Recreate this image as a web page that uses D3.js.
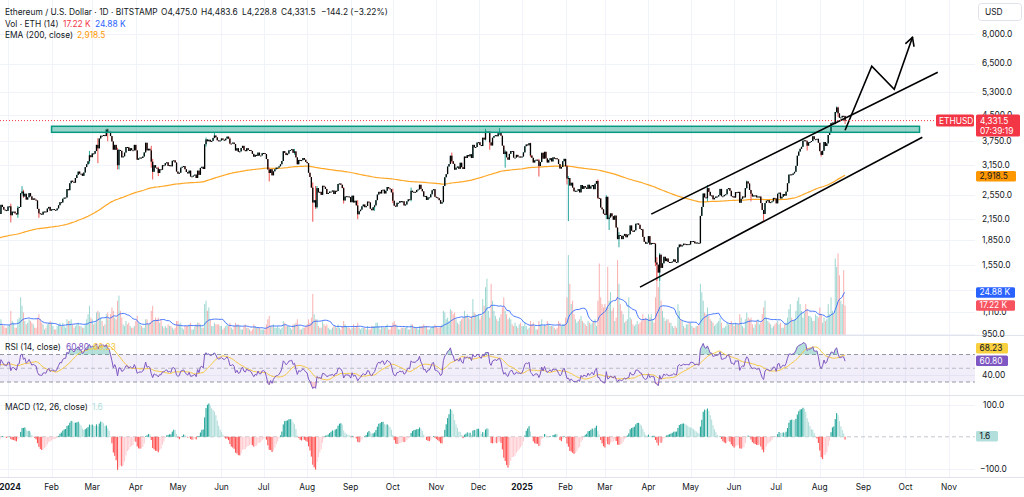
<!DOCTYPE html>
<html><head><meta charset="utf-8">
<script src="https://cdn.jsdelivr.net/npm/d3@7"></script>
<style>
html,body{margin:0;padding:0;background:#fff;}
svg{display:block;font-family:Inter,"Noto Sans",sans-serif;}
</style></head><body>
<svg id="c" width="1024" height="497"></svg>
<script>
// ---------------- DATA ----------------
// Daily closes (USD), one row per month, starting the 1st of each month
const closeMonths = ["2023-11","2023-12","2024-01","2024-02","2024-03","2024-04","2024-05","2024-06","2024-07","2024-08","2024-09","2024-10","2024-11","2024-12","2025-01","2025-02","2025-03","2025-04","2025-05","2025-06","2025-07","2025-08"];
const closeRows = [
[1845,1795,1835,1860,1895,1900,1885,1890,2120,2075,2050,2045,2055,1980,2060,1960,1960,1965,2015,2015,1935,2065,2060,2080,2085,2065,2030,2050,2030,2050],
[2090,2165,2195,2240,2295,2230,2360,2355,2340,2355,2225,2200,2260,2315,2220,2230,2195,2215,2175,2200,2240,2325,2265,2265,2270,2230,2380,2345,2300,2292,2281],
[2352,2355,2210,2268,2268,2240,2222,2330,2344,2585,2617,2525,2575,2470,2510,2587,2528,2467,2490,2470,2455,2313,2241,2234,2220,2267,2270,2260,2318,2345,2283],
[2303,2309,2296,2290,2320,2372,2425,2420,2485,2505,2507,2660,2640,2775,2825,2803,2785,2880,2945,3015,2970,2970,2925,2995,3112,3175,3245,3385,3340],
[3430,3422,3488,3645,3556,3815,3890,3885,3910,3880,4066,3980,4000,3880,3735,3522,3645,3520,3155,3515,3495,3335,3360,3450,3590,3585,3490,3560,3510,3505,3645],
[3505,3280,3310,3330,3320,3355,3455,3700,3505,3545,3505,3235,3010,3155,3100,3085,2985,3065,3055,3155,3150,3200,3220,3140,3155,3130,3255,3265,3215,3015],
[2970,2990,3100,3120,3135,3065,3005,2975,3035,2910,2915,2930,2950,2880,3035,2945,3095,3120,3070,3660,3790,3740,3780,3730,3750,3830,3895,3845,3765,3745,3760],
[3815,3780,3765,3810,3865,3810,3680,3680,3705,3665,3500,3560,3470,3480,3565,3620,3510,3485,3560,3515,3515,3490,3420,3350,3395,3370,3450,3380,3380,3435],
[3440,3415,3295,3060,2985,3065,2935,3020,3065,3100,3100,3130,3175,3250,3485,3445,3390,3425,3505,3515,3535,3445,3480,3335,3175,3275,3250,3270,3320,3280,3230],
[3200,2990,2900,2690,2420,2460,2340,2680,2600,2610,2555,2725,2705,2665,2570,2590,2615,2615,2635,2570,2630,2625,2760,2770,2745,2680,2455,2525,2530,2525,2515],
[2425,2540,2420,2450,2370,2225,2275,2300,2355,2385,2340,2360,2435,2420,2315,2290,2340,2370,2460,2560,2610,2580,2645,2650,2580,2630,2700,2675,2660,2600],
[2450,2365,2350,2415,2415,2445,2425,2440,2370,2385,2440,2475,2465,2630,2605,2610,2605,2645,2655,2745,2665,2620,2525,2535,2465,2510,2510,2565,2640,2660,2520],
[2510,2495,2460,2400,2425,2720,2895,2960,3125,3180,3375,3245,3185,3055,3100,3125,3075,3210,3110,3070,3355,3320,3390,3360,3410,3320,3645,3580,3590,3705],
[3715,3640,3615,3835,3785,4000,4005,4005,3710,3630,3835,3880,3905,3875,3960,3985,3890,3625,3415,3475,3335,3280,3420,3490,3485,3330,3330,3395,3350,3355,3335],
[3355,3455,3610,3655,3635,3690,3380,3325,3215,3265,3280,3265,3135,3225,3445,3305,3470,3310,3215,3275,3315,3240,3335,3305,3315,3290,3180,3080,3115,3245,3300],
[3130,2870,2880,2730,2785,2690,2620,2630,2630,2660,2600,2740,2665,2720,2690,2665,2745,2670,2715,2740,2660,2765,2820,2500,2490,2335,2305,2235],
[2215,2520,2150,2175,2240,2195,2140,2205,2025,1865,1920,1910,1865,1910,1935,1890,1925,1930,2055,1980,1965,1985,2080,2085,2065,2005,2000,1895,1830,1805,1820],
[1905,1795,1815,1815,1805,1580,1555,1470,1670,1520,1570,1645,1595,1625,1585,1575,1585,1590,1615,1585,1580,1760,1795,1770,1785,1805,1795,1800,1800,1795],
[1840,1840,1835,1810,1820,1815,1810,2200,2345,2580,2510,2495,2680,2610,2540,2545,2475,2500,2525,2525,2550,2665,2530,2530,2555,2565,2660,2680,2630,2530,2530],
[2505,2605,2595,2610,2415,2485,2525,2510,2680,2810,2770,2645,2575,2525,2545,2545,2510,2525,2525,2410,2295,2230,2410,2450,2460,2415,2425,2440,2500,2490],
[2405,2575,2595,2490,2520,2570,2540,2615,2775,2950,2955,2945,2975,3010,3140,3375,3475,3545,3595,3755,3765,3740,3625,3710,3720,3745,3875,3795,3795,3805,3700],
[3485,3395,3495,3720,3615,3685,3910,3995,4255,4270,4225,4605,4755,4560,4420,4430,4480,4475,4331.5]
];

// Notable daily wicks: [date, high, low]
const wicks = [
["2024-01-03",2400,2100],["2024-01-08",2360,2170],["2024-01-11",2717,2560],["2024-01-12",2650,2500],["2024-01-23",2300,2170],
["2024-02-28",3490,3190],["2024-03-05",3820,3200],["2024-03-12",4093,3740],["2024-03-19",3570,3060],["2024-03-20",3540,3060],
["2024-04-12",3620,3100],["2024-04-13",3300,2850],["2024-04-17",3120,2920],["2024-05-21",3840,3600],["2024-05-27",3975,3820],
["2024-06-07",3840,3660],["2024-07-05",3100,2810],["2024-07-23",3540,3400],["2024-08-05",2790,2110],["2024-08-07",2720,2310],
["2024-08-08",2720,2320],["2024-08-27",2700,2400],["2024-09-06",2460,2150],["2024-09-18",2380,2280],["2024-10-01",2670,2410],
["2024-10-14",2690,2440],["2024-11-12",3450,3210],["2024-12-06",4085,3760],["2024-12-09",4000,3520],["2024-12-16",4107,3910],
["2024-12-20",3510,3100],["2025-01-07",3700,3340],["2025-01-13",3300,2910],["2025-02-02",3160,2750],["2025-02-03",2920,2120],
["2025-02-24",2850,2480],["2025-03-02",2550,2150],["2025-03-04",2210,1990],["2025-03-11",1960,1760],["2025-04-06",1810,1540],
["2025-04-07",1640,1385],["2025-04-09",1690,1385],["2025-05-13",2740,2440],["2025-06-10",2830,2670],["2025-06-13",2640,2440],
["2025-06-22",2290,2110],["2025-07-23",3760,3500],["2025-08-02",3490,3355],["2025-08-13",4790,4580],["2025-08-14",4780,4450],
["2025-08-19",4483.6,4228.8]
];

// Daily volume (thousand ETH), one row per month
const volMonths = ["2023-12","2024-01","2024-02","2024-03","2024-04","2024-05","2024-06","2024-07","2024-08","2024-09","2024-10","2024-11","2024-12","2025-01","2025-02","2025-03","2025-04","2025-05","2025-06","2025-07","2025-08"];
const volRows = [
[8,7,9,10,8,9,12,9,8,10,12,7,7,6,8,5,4,6,7,6,5,8,4,3,5,8,9,6,5,4,4],
[5,6,14,8,7,4,4,9,10,22,17,13,8,6,7,9,8,7,6,4,4,10,12,9,7,6,3,4,6,7,8],
[7,5,3,3,5,6,7,5,7,5,4,9,8,8,9,6,4,5,6,7,5,5,4,4,6,9,12,17,10],
[9,6,7,13,14,13,10,8,5,6,12,13,9,12,16,14,10,9,20,23,14,10,6,5,8,6,7,5,4,4,5],
[8,11,7,6,5,4,4,9,9,6,7,14,17,8,10,9,10,7,9,5,4,5,4,6,5,5,4,3,4,8],
[8,6,7,4,3,5,5,5,6,7,3,3,5,6,7,7,6,4,4,18,20,14,16,9,5,5,7,6,6,6,5],
[5,3,4,5,6,5,7,4,3,5,7,6,6,5,3,3,5,6,4,4,3,2,3,6,5,4,4,4,3,3],
[3,3,6,9,11,5,5,6,4,4,5,4,3,4,8,7,5,5,5,4,3,6,6,7,9,5,3,3,4,4,5],
[6,9,7,10,24,12,9,9,5,4,4,8,6,5,6,4,3,3,4,5,5,4,6,4,3,5,8,6,5,4,4],
[3,4,6,4,5,7,4,3,4,4,4,3,5,3,3,5,5,5,7,7,5,3,5,4,4,5,6,3,3,5],
[7,8,6,5,3,3,4,4,4,4,5,3,3,6,6,4,4,4,3,5,5,5,6,5,5,3,3,4,5,5,6],
[5,4,4,5,6,14,13,9,10,8,15,14,12,13,9,7,6,8,9,10,14,11,12,10,9,11,21,13,12,11],
[12,9,11,21,17,28,33,14,10,30,20,14,11,9,8,10,12,16,22,14,12,9,10,9,6,5,7,5,4,6,7],
[5,5,7,5,3,4,8,6,7,5,3,3,8,6,9,5,6,5,8,6,5,5,5,4,3,4,8,7,5,6,6],
[10,22,47,30,18,20,12,9,7,8,9,11,8,7,6,5,8,7,6,7,8,9,5,20,42,22,18,16],
[18,16,40,20,25,14,16,8,10,44,30,18,14,12,7,8,9,22,10,9,6,5,6,8,6,7,8,12,9,10,9],
[12,10,12,9,7,22,40,28,35,20,14,10,8,9,9,7,7,5,4,5,4,18,14,9,8,5,4,6,6,7],
[7,5,4,4,5,5,6,30,25,20,13,12,16,11,9,8,7,5,6,7,8,10,7,4,4,5,7,6,6,8,6],
[5,7,6,6,12,10,5,4,9,13,10,9,10,6,4,6,8,9,6,7,12,16,20,10,8,7,6,4,5,6],
[7,8,6,7,4,4,6,7,10,15,18,10,8,9,14,20,22,18,14,10,13,18,15,11,11,10,8,8,12,11,10],
[16,12,7,10,8,9,18,12,22,14,12,45,40,48,35,20,18,38,17.22]
];

const ema200Seed = 1700;

// Axis ticks
const priceTicks = [8000,6500,5300,4500,3750,3150,2550,2150,1850,1550,1300,1110,950];
const priceTickLabels = [8000,6500,5300,4500,3750,3150,2550,2150,1850,1550,1110,950]; // 1,300 is hidden by the volume tag
const rsiTicks = [40];
const macdTicks = [100,-100];

// Legend / header text
const headerTitle = "Ethereum / U.S. Dollar · 1D · BITSTAMP";
const headerOHLC = ["O4,475.0","H4,483.6","L4,228.8","C4,331.5","−144.2 (−3.22%)"];
const lastPrice = 4331.5, countdown = "07:39:19", symbol = "ETHUSD";
const volLegend = ["17.22 K","24.88 K"], volValues = [17.22, 24.88];
const emaLegend = "2,918.5", emaValue = 2918.5;
const rsiLegend = ["60.80","68.23"], rsiValues = [60.80, 68.23];
const macdLegend = "1.6", macdValue = 1.6;

// Drawings (date, price)
const zone = {from:"2024-02-01", to:"2025-10-11", lo:3985, hi:4160};
const channelUpper = [["2025-04-03",2228],["2025-10-24",6108]];
const channelLower = [["2025-03-26",1326],["2025-10-13",3850]];
const projection = [["2025-08-19",4046],["2025-09-07",6374],["2025-09-23",5413],["2025-10-06",7831]];

// ---------------- CHART ----------------
const parse = d3.utcParse("%Y-%m-%d");
const fmtKey = d3.utcFormat("%Y-%m-%d");
const PW = 975;
const x = d3.scaleUtc().domain([parse("2024-01-01"), parse("2025-11-01")]).range([8, 949]);
const y = d3.scaleLog().domain([950, 8000]).range([334, 34.3]);
const yVol = d3.scaleLinear().domain([0, 50]).range([334.5, 250]);
const yRsi = d3.scaleLinear().domain([30, 70]).range([382, 354.5]);
const yMacd = d3.scaleLinear().domain([-100, 100]).range([468.6, 405]);

function expand(months, rows){
  const out=[];
  months.forEach((m,i)=>{const s=parse(m+"-01"); rows[i].forEach((v,j)=>out.push({date:d3.utcDay.offset(s,j), v}));});
  return out;
}
const cs = expand(closeMonths, closeRows);
const closes = cs.map(d=>d.v);
const wickMap = new Map(wicks.map(w=>[w[0], w]));
const candles = cs.map((d,i)=>{
  const o = i ? cs[i-1].v : d.v, c = d.v;
  const w = wickMap.get(fmtKey(d.date));
  return {date:d.date, o, c, h: w ? Math.max(w[1], o, c) : Math.max(o,c), l: w ? Math.min(w[2], o, c) : Math.min(o,c), up: c >= o};
});
const upMap = new Map(candles.map(d=>[fmtKey(d.date), d.up]));

function emaArr(vals, n, seed){const k=2/(n+1); let e=seed; return vals.map(v=>(e = (e===undefined) ? v : v*k + e*(1-k)));}
const ema200 = emaArr(closes, 200, ema200Seed);
const rsi = new Array(closes.length).fill(null);
{let ag=0, al=0;
 for(let i=1;i<closes.length;i++){
  const ch=closes[i]-closes[i-1], g=Math.max(ch,0), l=Math.max(-ch,0);
  if(i<=14){ag+=g/14; al+=l/14; if(i===14) rsi[i]=100-100/(1+ag/al);}
  else {ag=(ag*13+g)/14; al=(al*13+l)/14; rsi[i]= al===0?100:100-100/(1+ag/al);}
 }}
const rsiMa = rsi.map((v,i)=>{ if(i<27) return null; let s=0; for(let k=i-13;k<=i;k++) s+=rsi[k]; return s/14; });
const e12 = emaArr(closes,12), e26 = emaArr(closes,26);
const macd = closes.map((_,i)=>e12[i]-e26[i]);
const sig = emaArr(macd, 9);
const hist = macd.map((m,i)=>m-sig[i]);

const vs = expand(volMonths, volRows);
const vols = vs.map(d=>d.v);
const volMa = vols.map((v,i)=> i<13 ? null : d3.mean(vols.slice(i-13,i+1)));

const svg = d3.select("#c");
const defs = svg.append("defs");
function clip(id,x0,y0,w,h){defs.append("clipPath").attr("id",id).append("rect").attr("x",x0).attr("y",y0).attr("width",w).attr("height",h);}
clip("cMain",0,0,PW,335); clip("cRsi",0,336,PW,59); clip("cMacd",0,396,PW,81);

const TXT = "#131722", FS = 8.4;

// grid
const months = d3.utcMonth.range(parse("2024-01-01"), parse("2025-11-02"));
svg.append("g").selectAll("line").data(months).join("line")
  .attr("x1",d=>Math.round(x(d))+0.5).attr("x2",d=>Math.round(x(d))+0.5).attr("y1",0).attr("y2",477)
  .attr("stroke","#f0f3fa").attr("stroke-width",1);
svg.append("g").selectAll("line").data(priceTicks).join("line")
  .attr("x1",0).attr("x2",PW).attr("y1",d=>Math.round(y(d))+0.5).attr("y2",d=>Math.round(y(d))+0.5)
  .attr("stroke","#f0f3fa");
svg.append("g").selectAll("line").data(rsiTicks).join("line")
  .attr("x1",0).attr("x2",PW).attr("y1",d=>Math.round(yRsi(d))+0.5).attr("y2",d=>Math.round(yRsi(d))+0.5).attr("stroke","#f0f3fa");
svg.append("g").selectAll("line").data(macdTicks).join("line")
  .attr("x1",0).attr("x2",PW).attr("y1",d=>Math.round(yMacd(d))+0.5).attr("y2",d=>Math.round(yMacd(d))+0.5).attr("stroke","#f0f3fa");

// pane separators
[335.5, 395.5, 477.5].forEach(v=>svg.append("line").attr("x1",0).attr("x2",1024).attr("y1",v).attr("y2",v).attr("stroke","#e0e3eb"));

// ---- main pane
const main = svg.append("g").attr("clip-path","url(#cMain)");
// volume
main.append("g").selectAll("rect").data(vs).join("rect")
  .attr("x",d=>x(d.date)-0.5).attr("width",1)
  .attr("y",d=>yVol(d.v)).attr("height",d=>yVol(0)-yVol(d.v))
  .attr("fill",d=>upMap.get(fmtKey(d.date))===false ? "rgba(239,83,80,0.45)" : "rgba(38,166,154,0.45)");
main.append("path").datum(vs.map((d,i)=>({date:d.date, v:volMa[i]})).filter(d=>d.v!=null))
  .attr("d", d3.line().x(d=>x(d.date)).y(d=>yVol(d.v)))
  .attr("fill","none").attr("stroke","#2962ff").attr("stroke-width",1).attr("opacity",0.85);
// EMA
main.append("path").datum(cs.map((d,i)=>({date:d.date, v:ema200[i]})))
  .attr("d", d3.line().x(d=>x(d.date)).y(d=>y(d.v)))
  .attr("fill","none").attr("stroke","#ffa726").attr("stroke-width",1.2);
// candles
const cg = main.append("g");
cg.selectAll("line").data(candles).join("line")
  .attr("x1",d=>x(d.date)).attr("x2",d=>x(d.date)).attr("y1",d=>y(d.h)).attr("y2",d=>y(d.l))
  .attr("stroke",d=>d.up ? "#26a69a" : "#ef5350").attr("stroke-width",1);
cg.selectAll("rect").data(candles).join("rect")
  .attr("x",d=>x(d.date)-0.65).attr("width",1.3)
  .attr("y",d=>y(Math.max(d.o,d.c))).attr("height",d=>Math.max(1, y(Math.min(d.o,d.c))-y(Math.max(d.o,d.c))))
  .attr("fill","#000");
// zone
main.append("rect")
  .attr("x",x(parse(zone.from))).attr("width",x(parse(zone.to))-x(parse(zone.from)))
  .attr("y",y(zone.hi)).attr("height",y(zone.lo)-y(zone.hi))
  .attr("fill","rgba(8,153,129,0.42)").attr("stroke","#089981").attr("stroke-width",1.5);
// lines
const dl = d3.line().x(d=>x(parse(d[0]))).y(d=>y(d[1]));
[channelUpper, channelLower].forEach(seg=>main.append("path").attr("d",dl(seg)).attr("fill","none").attr("stroke","#000").attr("stroke-width",1.6));
main.append("path").attr("d",dl(projection)).attr("fill","none").attr("stroke","#000").attr("stroke-width",1.6).attr("stroke-linejoin","miter");
{ const p1=projection[projection.length-2], p2=projection[projection.length-1];
  const ax=x(parse(p2[0])), ay=y(p2[1]), bx=x(parse(p1[0])), by=y(p1[1]);
  const ang=Math.atan2(by-ay, bx-ax), L=9;
  [-0.5,0.5].forEach(a=>main.append("line").attr("x1",ax).attr("y1",ay)
    .attr("x2",ax+L*Math.cos(ang+a)).attr("y2",ay+L*Math.sin(ang+a)).attr("stroke","#000").attr("stroke-width",1.6).attr("stroke-linecap","round"));
}
// last price line
main.append("line").attr("x1",0).attr("x2",936).attr("y1",y(lastPrice)).attr("y2",y(lastPrice))
  .attr("stroke","#f23645").attr("stroke-width",1).attr("stroke-dasharray","1,2");

// ---- RSI pane
const rp = svg.append("g").attr("clip-path","url(#cRsi)");
rp.append("rect").attr("x",0).attr("width",PW).attr("y",yRsi(70)).attr("height",yRsi(30)-yRsi(70)).attr("fill","rgba(126,87,194,0.1)");
[[70,"#9598a1"],[50,"#b8bac2"],[30,"#9598a1"]].forEach(([v,c])=>rp.append("line").attr("x1",0).attr("x2",PW)
  .attr("y1",yRsi(v)).attr("y2",yRsi(v)).attr("stroke",c).attr("stroke-dasharray","4,3"));
const rsiPts = cs.map((d,i)=>({date:d.date, v:rsi[i], m:rsiMa[i]})).filter(d=>d.v!=null);
rp.append("path").datum(rsiPts).attr("d", d3.area().x(d=>x(d.date)).y0(yRsi(70)).y1(d=>yRsi(Math.max(70,d.v))))
  .attr("fill","rgba(8,153,129,0.3)");
rp.append("path").datum(rsiPts).attr("d", d3.area().x(d=>x(d.date)).y0(yRsi(30)).y1(d=>yRsi(Math.min(30,d.v))))
  .attr("fill","rgba(242,54,69,0.25)");
rp.append("path").datum(rsiPts.filter(d=>d.m!=null)).attr("d", d3.line().x(d=>x(d.date)).y(d=>yRsi(d.m)))
  .attr("fill","none").attr("stroke","#f5c842").attr("stroke-width",1);
rp.append("path").datum(rsiPts).attr("d", d3.line().x(d=>x(d.date)).y(d=>yRsi(d.v)))
  .attr("fill","none").attr("stroke","#7e57c2").attr("stroke-width",1);

// ---- MACD pane
const mp = svg.append("g").attr("clip-path","url(#cMacd)");
mp.append("line").attr("x1",0).attr("x2",PW).attr("y1",yMacd(0)).attr("y2",yMacd(0)).attr("stroke","#c4c6cd").attr("stroke-dasharray","4,3");
mp.append("g").selectAll("rect").data(cs.map((d,i)=>({date:d.date, h:hist[i], p: i?hist[i-1]:hist[i]}))).join("rect")
  .attr("x",d=>x(d.date)-0.55).attr("width",1.1)
  .attr("y",d=>yMacd(Math.max(0,d.h))).attr("height",d=>Math.abs(yMacd(d.h)-yMacd(0)))
  .attr("fill",d=> d.h>=0 ? (d.h>=d.p ? "#26a69a" : "#b2dfdb") : (d.h<d.p ? "#ff5252" : "#ffcdd2"));

// ---- axes text
const gt = svg.append("g").attr("font-size",FS).attr("fill",TXT);
gt.selectAll("text.p").data(priceTickLabels).join("text").attr("class","p")
  .attr("x",982).attr("y",d=>y(d)).attr("dy","0.35em").text(d=>d3.format(",.1f")(d));
gt.selectAll("text.r").data(rsiTicks).join("text").attr("class","r")
  .attr("x",982).attr("y",d=>yRsi(d)).attr("dy","0.35em").text(d=>d3.format(".2f")(d));
gt.selectAll("text.m").data(macdTicks).join("text").attr("class","m")
  .attr("x",d=>d<0?980:983).attr("y",d=>yMacd(d)).attr("dy","0.35em").text(d=>d3.format(".1f")(d).replace("-","−"));
gt.selectAll("text.t").data(months).join("text").attr("class","t")
  .attr("x",d=>Math.max(10, x(d))).attr("y",487).attr("dy","0.35em").attr("text-anchor","middle")
  .attr("font-weight",d=>d.getUTCMonth()===0?"700":"400")
  .text(d=>d.getUTCMonth()===0 ? d.getUTCFullYear() : d3.utcFormat("%b")(d));

// USD button
svg.append("rect").attr("x",978.5).attr("y",3.5).attr("width",43).attr("height",17).attr("rx",3)
  .attr("fill","#fff").attr("stroke","#e0e3eb");
svg.append("text").attr("x",985).attr("y",12.3).attr("dy","0.35em").attr("font-size",FS).attr("fill",TXT).text("USD");

// price-scale tags
function tag(cy, x0, w, h, bg, fg, txt){
  svg.append("rect").attr("x",x0).attr("y",cy-h/2).attr("width",w).attr("height",h).attr("rx",1.5).attr("fill",bg);
  svg.append("text").attr("x",x0+3.5).attr("y",cy).attr("dy","0.35em").attr("font-size",FS).attr("fill",fg).text(txt);
}
// last price + symbol
{ const cy=y(lastPrice);
  svg.append("rect").attr("x",936).attr("y",cy-6).attr("width",38).attr("height",12).attr("rx",1.5).attr("fill","#f23645");
  svg.append("text").attr("x",939).attr("y",cy).attr("dy","0.35em").attr("font-size",FS).attr("fill","#fff").text(symbol);
  svg.append("rect").attr("x",976).attr("y",cy-6).attr("width",44).attr("height",22).attr("rx",1.5).attr("fill","#f23645");
  svg.append("text").attr("x",980).attr("y",cy).attr("dy","0.35em").attr("font-size",FS).attr("fill","#fff").text(d3.format(",.1f")(lastPrice));
  svg.append("text").attr("x",980).attr("y",cy+10.5).attr("dy","0.35em").attr("font-size",FS).attr("fill","#fff").text(countdown);
}
tag(y(emaValue), 976, 40, 10.5, "#ff9800", TXT, emaLegend);
tag(yVol(volValues[1]), 976, 39, 10.5, "#2962ff", "#fff", volLegend[1]);
tag(yVol(volValues[0]), 976, 39, 10.5, "#f7525f", "#fff", volLegend[0]);
{ const yb = yRsi(rsiValues[0]); const ya = Math.min(yRsi(rsiValues[1]), yb-12.5);
  tag(ya, 976, 32, 10.5, "#f9d03f", TXT, rsiLegend[1]);
  tag(yb, 976, 32, 10.5, "#7e57c2", "#fff", rsiLegend[0]); }
tag(yMacd(macdValue), 976, 22, 10.5, "#b2dfdb", TXT, macdLegend);

// legends
function lt(xp, yp, txt, col){ svg.append("text").attr("x",xp).attr("y",yp).attr("dy","0.35em").attr("font-size",FS).attr("fill",col||TXT).text(txt); }
lt(5, 12, headerTitle);
[161,201,242,281,321].forEach((xp,i)=>lt(xp,12,headerOHLC[i]));
lt(5, 24, "Vol · ETH (14)"); lt(63, 24, volLegend[0], "#f23645"); lt(95, 24, volLegend[1], "#2962ff");
lt(5, 35, "EMA (200, close)"); lt(77, 35, emaLegend, "#ff9800");
lt(5, 346.7, "RSI (14, close)"); lt(66, 346.7, rsiLegend[0], "#7e57c2"); lt(93, 346.7, rsiLegend[1], "#f5c842");
lt(5, 406.7, "MACD (12, 26, close)"); lt(92, 406.7, macdLegend, "#b2dfdb");
</script>
</body></html>
